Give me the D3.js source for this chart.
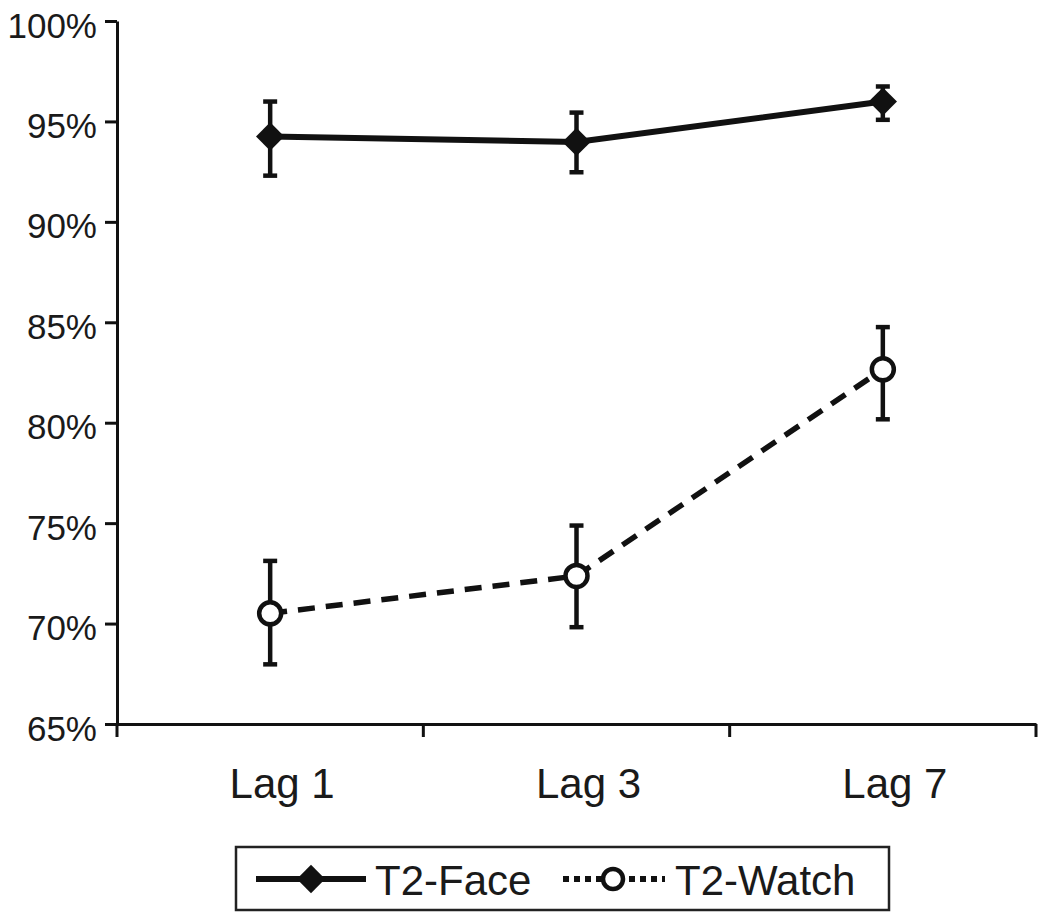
<!DOCTYPE html>
<html>
<head>
<meta charset="utf-8">
<script src="https://cdn.jsdelivr.net/npm/d3@7"></script>
<style>
  html, body { margin: 0; padding: 0; background: #fff; }
  svg text { font-family: "Liberation Sans", Arial, sans-serif; fill: #1a1a1a; }
</style>
</head>
<body>
<svg id="chart" width="1050" height="923"></svg>
<script>
// ---- data ----
const categories = ["Lag 1", "Lag 3", "Lag 7"];
const faceValues = [94.25, 93.98, 95.99];
const faceErrLow = [92.30, 92.47, 95.08];
const faceErrHigh = [95.99, 95.44, 96.74];
const watchValues = [70.51, 72.37, 82.66];
const watchErrLow = [67.97, 69.82, 80.17];
const watchErrHigh = [73.12, 74.88, 84.76];
const yTicks = [65, 70, 75, 80, 85, 90, 95, 100];
const seriesNames = ["T2-Face", "T2-Watch"];

// ---- layout ----
const svg = d3.select("#chart");
const ink = "#111";
const x = d3.scaleBand().domain(categories).range([117, 1036]).padding(0);
const y = d3.scaleLinear().domain([65, 100]).range([724, 21]);
const cx = c => x(c) + x.bandwidth() / 2;

// y axis
const yAxis = svg.append("g").attr("transform", "translate(117,0)")
  .call(d3.axisLeft(y).tickValues(yTicks).tickSize(12).tickSizeOuter(0).tickFormat(d => d + "%"));
yAxis.select(".domain").attr("stroke", ink).attr("stroke-width", 3);
yAxis.selectAll(".tick line").attr("stroke", ink).attr("stroke-width", 3);
yAxis.selectAll(".tick text").attr("x", -20).attr("dy", "16px")
  .style("font-size", "35px").attr("fill", "#1a1a1a");

// x axis
const xAxis = svg.append("g").attr("transform", "translate(0,724)")
  .call(d3.axisBottom(x).tickSize(0).tickSizeOuter(0));
xAxis.select(".domain").attr("stroke", ink).attr("stroke-width", 3);
xAxis.selectAll(".tick text").attr("y", 74).attr("dy", 0).attr("x", 12)
  .style("font-size", "42px").attr("fill", "#1a1a1a");
// x tick marks at band boundaries
const bounds = categories.map(c => x(c)).concat([x(categories[categories.length - 1]) + x.bandwidth()]);
xAxis.selectAll(".bt").data(bounds).enter().append("line")
  .attr("x1", d => d).attr("x2", d => d).attr("y1", 0).attr("y2", 13)
  .attr("stroke", ink).attr("stroke-width", 3);

// error bars helper
function errorBars(vLow, vHigh) {
  const g = svg.append("g").attr("stroke", ink).attr("stroke-width", 4.5);
  categories.forEach((c, i) => {
    g.append("line").attr("x1", cx(c)).attr("x2", cx(c)).attr("y1", y(vLow[i])).attr("y2", y(vHigh[i]));
    g.append("line").attr("x1", cx(c) - 7).attr("x2", cx(c) + 7).attr("y1", y(vLow[i])).attr("y2", y(vLow[i]));
    g.append("line").attr("x1", cx(c) - 7).attr("x2", cx(c) + 7).attr("y1", y(vHigh[i])).attr("y2", y(vHigh[i]));
  });
}

const line = d3.line().x((d, i) => cx(categories[i])).y(d => y(d));

// T2-Face
errorBars(faceErrLow, faceErrHigh);
svg.append("path").datum(faceValues).attr("d", line)
  .attr("fill", "none").attr("stroke", ink).attr("stroke-width", 6);
svg.selectAll(".face").data(faceValues).enter().append("path")
  .attr("d", d3.symbol().type(d3.symbolSquare).size(20 * 20))
  .attr("transform", (d, i) => `translate(${cx(categories[i])},${y(d)}) rotate(45)`)
  .attr("fill", ink);

// T2-Watch
errorBars(watchErrLow, watchErrHigh);
svg.append("path").datum(watchValues).attr("d", line)
  .attr("fill", "none").attr("stroke", ink).attr("stroke-width", 5.5)
  .attr("stroke-dasharray", "17,11");
svg.selectAll(".watch").data(watchValues).enter().append("circle")
  .attr("cx", (d, i) => cx(categories[i])).attr("cy", d => y(d)).attr("r", 11)
  .attr("fill", "#fff").attr("stroke", ink).attr("stroke-width", 4.5);

// legend
const lg = svg.append("g");
lg.append("rect").attr("x", 236).attr("y", 847).attr("width", 653).attr("height", 63)
  .attr("fill", "#fff").attr("stroke", "#222").attr("stroke-width", 2.5);
lg.append("line").attr("x1", 256).attr("x2", 366).attr("y1", 879).attr("y2", 879)
  .attr("stroke", ink).attr("stroke-width", 6);
lg.append("path").attr("d", d3.symbol().type(d3.symbolSquare).size(20 * 20))
  .attr("transform", "translate(311,879) rotate(45)").attr("fill", ink);
lg.append("text").attr("x", 375).attr("y", 895).style("font-size", "42px").text(seriesNames[0]);
lg.append("line").attr("x1", 563).attr("x2", 665).attr("y1", 879).attr("y2", 879)
  .attr("stroke", ink).attr("stroke-width", 6).attr("stroke-dasharray", "6,5");
lg.append("circle").attr("cx", 613).attr("cy", 879).attr("r", 10)
  .attr("fill", "#fff").attr("stroke", ink).attr("stroke-width", 4.5);
lg.append("text").attr("x", 675).attr("y", 895).style("font-size", "42px").text(seriesNames[1]);
</script>
</body>
</html>
